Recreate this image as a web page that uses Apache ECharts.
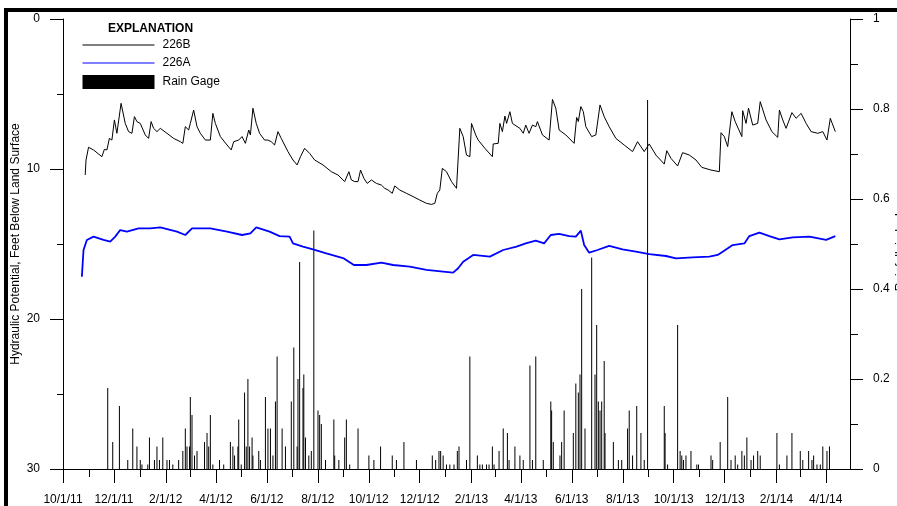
<!DOCTYPE html>
<html><head><meta charset="utf-8">
<script src="https://cdn.jsdelivr.net/npm/echarts@6/dist/echarts.min.js"></script>
<style>
html,body{margin:0;padding:0;background:#fff;}
#wrap{position:relative;width:897px;height:506px;overflow:hidden;}
#c{width:897px;height:506px;}
#frame{position:absolute;left:4px;top:8px;right:-10px;bottom:-10px;border-left:4px solid #000;border-top:4px solid #000;pointer-events:none;}
</style></head><body>
<div id="wrap"><div id="c"></div><div id="frame"></div></div>
<script>
const axisStart = '2011-10-01';
const axisEnd = '2014-04-30';
const tickLabels = ['10/1/11','12/1/11','2/1/12','4/1/12','6/1/12','8/1/12','10/1/12','12/1/12','2/1/13','4/1/13','6/1/13','8/1/13','10/1/13','12/1/13','2/1/14','4/1/14'];
const leftTicks = [0, 10, 20, 30];
const rightTicks = [0, 0.2, 0.4, 0.6, 0.8, 1];

const well226B = [['2011-10-27',10.4],['2011-10-28',9.4],['2011-10-31',8.55],['2011-11-06',8.73],['2011-11-16',9.18],['2011-11-19',8.69],['2011-11-22',8.73],['2011-11-25',7.96],['2011-11-28',8.07],['2011-12-01',6.73],['2011-12-04',7.62],['2011-12-06',7.51],['2011-12-09',5.62],['2011-12-14',6.96],['2011-12-18',7.51],['2011-12-22',7.62],['2011-12-25',6.51],['2011-12-28',6.84],['2012-01-01',6.96],['2012-01-07',7.73],['2012-01-11',7.96],['2012-01-14',6.84],['2012-01-17',7.29],['2012-01-21',7.51],['2012-01-25',7.29],['2012-02-02',7.62],['2012-02-10',7.96],['2012-02-18',8.18],['2012-02-21',8.29],['2012-02-24',7.18],['2012-02-28',7.4],['2012-03-01',6.96],['2012-03-05',6.07],['2012-03-09',7.18],['2012-03-13',7.62],['2012-03-19',8.07],['2012-03-25',8.07],['2012-03-28',6.29],['2012-03-31',6.96],['2012-04-06',7.84],['2012-04-14',8.4],['2012-04-19',8.73],['2012-04-22',8.18],['2012-04-28',8.07],['2012-05-02',7.84],['2012-05-06',8.29],['2012-05-10',7.4],['2012-05-12',7.73],['2012-05-15',5.95],['2012-05-19',6.96],['2012-05-23',7.62],['2012-05-29',8.07],['2012-06-02',8.07],['2012-06-06',8.18],['2012-06-10',8.4],['2012-06-14',7.51],['2012-06-18',7.96],['2012-06-26',8.84],['2012-07-02',9.4],['2012-07-07',9.73],['2012-07-11',9.18],['2012-07-16',8.62],['2012-07-22',8.96],['2012-07-28',9.4],['2012-08-07',9.73],['2012-08-17',10.18],['2012-08-25',10.4],['2012-09-02',10.84],['2012-09-07',10.18],['2012-09-10',10.73],['2012-09-14',10.84],['2012-09-18',10.84],['2012-09-21',10.07],['2012-09-25',10.62],['2012-09-29',10.96],['2012-10-04',10.73],['2012-10-10',10.96],['2012-10-16',11.07],['2012-10-20',11.29],['2012-10-24',11.4],['2012-10-29',11.62],['2012-11-01',11.13],['2012-11-07',11.4],['2012-11-15',11.62],['2012-11-23',11.84],['2012-12-01',12.07],['2012-12-09',12.29],['2012-12-15',12.36],['2012-12-19',12.29],['2012-12-22',11.62],['2012-12-25',11.4],['2012-12-28',9.96],['2013-01-02',10.18],['2013-01-08',10.84],['2013-01-14',11.29],['2013-01-18',7.29],['2013-01-22',7.84],['2013-01-26',9.07],['2013-01-30',9.18],['2013-02-01',6.96],['2013-02-06',7.73],['2013-02-09',8.07],['2013-02-17',8.62],['2013-02-26',9.18],['2013-02-27',8.33],['2013-03-05',8.29],['2013-03-07',6.96],['2013-03-10',7.51],['2013-03-13',6.47],['2013-03-15',6.96],['2013-03-19',6.18],['2013-03-22',6.96],['2013-03-31',7.29],['2013-04-04',7.62],['2013-04-07',7.07],['2013-04-11',7.62],['2013-04-15',7.07],['2013-04-19',7.18],['2013-04-21',6.84],['2013-04-27',7.73],['2013-05-05',8.07],['2013-05-09',5.36],['2013-05-13',5.95],['2013-05-17',7.4],['2013-05-25',7.73],['2013-06-04',8.29],['2013-06-07',6.56],['2013-06-09',6.84],['2013-06-12',5.84],['2013-06-15',6.18],['2013-06-18',7.18],['2013-06-25',7.84],['2013-06-30',7.73],['2013-07-05',5.73],['2013-07-10',6.51],['2013-07-16',7.18],['2013-07-24',7.96],['2013-08-03',8.4],['2013-08-13',8.84],['2013-08-19',8.18],['2013-08-27',8.84],['2013-09-02',8.33],['2013-09-10',9.07],['2013-09-20',9.67],['2013-09-23',8.78],['2013-09-28',9.29],['2013-10-06',9.8],['2013-10-12',8.91],['2013-10-20',9.07],['2013-10-28',9.4],['2013-11-04',9.89],['2013-11-15',10.07],['2013-11-25',10.18],['2013-11-27',7.58],['2013-12-01',7.84],['2013-12-05',8.51],['2013-12-10',6.18],['2013-12-14',6.84],['2013-12-22',7.84],['2013-12-23',6.11],['2013-12-27',6.96],['2013-12-30',5.95],['2014-01-04',7.07],['2014-01-10',6.96],['2014-01-13',5.51],['2014-01-20',6.73],['2014-01-27',7.51],['2014-02-03',7.89],['2014-02-05',6.07],['2014-02-09',6.73],['2014-02-13',7.29],['2014-02-20',6.24],['2014-02-25',6.62],['2014-03-03',6.29],['2014-03-09',6.96],['2014-03-15',7.51],['2014-03-23',7.62],['2014-03-29',7.51],['2014-04-03',8.07],['2014-04-07',6.62],['2014-04-13',7.51]];

const well226A = [['2011-10-23',17.18],['2011-10-25',15.4],['2011-10-29',14.73],['2011-11-06',14.51],['2011-11-18',14.73],['2011-11-26',14.84],['2011-12-02',14.51],['2011-12-08',14.07],['2011-12-16',14.18],['2011-12-30',13.96],['2012-01-13',13.96],['2012-01-25',13.89],['2012-02-14',14.18],['2012-02-24',14.4],['2012-03-03',13.96],['2012-03-25',13.96],['2012-04-14',14.18],['2012-05-02',14.4],['2012-05-12',14.29],['2012-05-19',13.89],['2012-06-04',14.18],['2012-06-16',14.47],['2012-06-28',14.51],['2012-07-02',14.96],['2012-07-14',15.18],['2012-07-26',15.36],['2012-08-11',15.62],['2012-09-01',15.96],['2012-09-13',16.4],['2012-09-28',16.4],['2012-10-16',16.24],['2012-10-30',16.4],['2012-11-19',16.51],['2012-12-09',16.73],['2012-12-29',16.84],['2013-01-10',16.91],['2013-01-16',16.62],['2013-01-22',16.18],['2013-02-03',15.73],['2013-02-23',15.84],['2013-03-11',15.4],['2013-03-27',15.18],['2013-04-07',14.96],['2013-04-19',14.78],['2013-04-29',14.96],['2013-05-07',14.4],['2013-05-17',14.33],['2013-05-29',14.47],['2013-06-06',14.51],['2013-06-12',14.11],['2013-06-16',15.07],['2013-06-22',15.58],['2013-07-02',15.4],['2013-07-16',15.13],['2013-08-01',15.36],['2013-08-17',15.51],['2013-09-02',15.67],['2013-09-22',15.8],['2013-10-04',15.96],['2013-10-24',15.89],['2013-11-13',15.84],['2013-11-23',15.73],['2013-11-29',15.51],['2013-12-11',15.07],['2013-12-25',14.96],['2013-12-31',14.47],['2014-01-12',14.24],['2014-01-24',14.47],['2014-02-05',14.69],['2014-02-21',14.56],['2014-03-13',14.51],['2014-04-02',14.73],['2014-04-13',14.47]];

const rainGage = [['2011-11-23',0.18],['2011-11-29',0.06],['2011-12-07',0.14],['2011-12-17',0.02],['2011-12-23',0.09],['2011-12-28',0.05],['2012-01-01',0.02],['2012-01-03',0.01],['2012-01-10',0.01],['2012-01-12',0.07],['2012-01-18',0.02],['2012-01-21',0.05],['2012-01-24',0.02],['2012-01-28',0.07],['2012-02-02',0.02],['2012-02-05',0.02],['2012-02-09',0.01],['2012-02-16',0.02],['2012-02-21',0.04],['2012-02-24',0.09],['2012-02-26',0.05],['2012-02-29',0.05],['2012-03-01',0.16],['2012-03-03',0.12],['2012-03-06',0.03],['2012-03-09',0.04],['2012-03-18',0.06],['2012-03-21',0.08],['2012-03-23',0.05],['2012-03-25',0.12],['2012-03-28',0.01],['2012-04-05',0.02],['2012-04-10',0.01],['2012-04-18',0.06],['2012-04-21',0.05],['2012-04-23',0.03],['2012-04-27',0.05],['2012-04-28',0.11],['2012-05-01',0.01],['2012-05-05',0.17],['2012-05-07',0.05],['2012-05-09',0.2],['2012-05-11',0.05],['2012-05-14',0.07],['2012-05-15',0.03],['2012-05-22',0.04],['2012-05-24',0.02],
['2012-05-30',0.16],['2012-06-02',0.09],['2012-06-05',0.09],['2012-06-08',0.03],['2012-06-11',0.15],['2012-06-13',0.25],['2012-06-19',0.09],['2012-06-23',0.05],['2012-06-30',0.15],['2012-07-03',0.27],['2012-07-07',0.05],['2012-07-08',0.2],['2012-07-10',0.46],['2012-07-14',0.18],['2012-07-15',0.21],['2012-07-17',0.07],['2012-07-21',0.03],['2012-07-24',0.04],['2012-07-27',0.53],['2012-08-01',0.13],['2012-08-03',0.12],['2012-08-05',0.1],['2012-08-10',0.02],['2012-08-20',0.11],['2012-08-21',0.03],['2012-08-26',0.02],['2012-09-02',0.07],['2012-09-04',0.11],['2012-09-08',0.01],['2012-09-18',0.09],['2012-10-01',0.03],['2012-10-07',0.02],['2012-10-15',0.05],['2012-10-29',0.03],['2012-11-03',0.02],['2012-11-12',0.06],['2012-11-27',0.02],['2012-12-16',0.03],['2012-12-20',0.02],['2012-12-24',0.04],['2012-12-26',0.04],['2012-12-29',0.03],['2013-01-02',0.01],['2013-01-06',0.01],['2013-01-11',0.01],['2013-01-15',0.04],['2013-01-17',0.05],
['2013-01-26',0.02],['2013-01-30',0.25],['2013-02-08',0.03],['2013-02-11',0.01],['2013-02-14',0.01],['2013-02-19',0.01],['2013-02-22',0.01],['2013-02-26',0.05],['2013-02-28',0.01],['2013-03-06',0.04],['2013-03-11',0.09],['2013-03-16',0.08],['2013-03-18',0.02],['2013-03-25',0.05],['2013-03-31',0.03],['2013-04-04',0.02],['2013-04-12',0.23],['2013-04-15',0.02],['2013-04-19',0.25],['2013-04-28',0.02],['2013-05-07',0.15],['2013-05-08',0.13],['2013-05-10',0.06],['2013-05-18',0.03],['2013-05-20',0.06],['2013-05-23',0.13],['2013-06-03',0.08],['2013-06-06',0.19],['2013-06-09',0.17],['2013-06-11',0.21],['2013-06-13',0.40],['2013-06-17',0.09],['2013-06-25',0.47],['2013-06-29',0.21],['2013-07-01',0.32],['2013-07-03',0.15],['2013-07-05',0.13],['2013-07-07',0.15],['2013-07-10',0.24],['2013-07-11',0.08],['2013-07-21',0.06],['2013-07-27',0.02],['2013-07-31',0.02],['2013-08-07',0.09],['2013-08-09',0.13],['2013-08-13',0.03],['2013-08-18',0.14],['2013-08-23',0.08],['2013-08-27',0.02],['2013-08-31',0.82],
['2013-09-20',0.14],['2013-09-21',0.08],['2013-09-24',0.01],['2013-10-06',0.32],['2013-10-09',0.04],['2013-10-11',0.03],['2013-10-13',0.02],['2013-10-16',0.03],['2013-10-22',0.04],['2013-10-29',0.01],['2013-10-31',0.01],['2013-11-15',0.03],['2013-11-17',0.02],['2013-11-26',0.06],['2013-12-05',0.16],['2013-12-09',0.02],['2013-12-14',0.03],['2013-12-17',0.01],['2013-12-22',0.04],['2013-12-25',0.03],['2013-12-28',0.07],['2014-01-02',0.02],['2014-01-05',0.03],['2014-01-10',0.04],['2014-01-13',0.03],['2014-02-02',0.08],['2014-02-05',0.01],['2014-02-14',0.03],['2014-02-20',0.08],['2014-03-02',0.04],['2014-03-05',0.02],['2014-03-12',0.04],['2014-03-16',0.02],['2014-03-18',0.03],['2014-03-22',0.01],['2014-03-26',0.01],['2014-03-29',0.05],['2014-04-03',0.04],['2014-04-06',0.05]];

function ts(s){ const p = s.split('-').map(Number); return new Date(p[0], p[1]-1, p[2]).getTime(); }
// daily category list for the tick axes
const dayCats = [];
for (let t = ts(axisStart); t <= ts(axisEnd) + 3600000; ) {
  const d = new Date(t);
  dayCats.push((d.getMonth()+1) + '/' + d.getDate() + '/' + String(d.getFullYear()).slice(2));
  t = new Date(d.getFullYear(), d.getMonth(), d.getDate()+1).getTime();
}
const FONT = 'Liberation Sans, Arial, sans-serif';
const isMajor = (i, v) => tickLabels.indexOf(v) >= 0;
const isMonth = (i, v) => v.split('/')[1] === '1';

const chart = echarts.init(document.getElementById('c'), null, {renderer: 'canvas'});
chart.setOption({
  animation: false,
  textStyle: {fontFamily: FONT},
  title: {text: 'EXPLANATION', left: 108, top: 23, padding: 0,
    textStyle: {fontSize: 12, fontWeight: 'bold', color: '#000', fontFamily: FONT}},
  legend: {
    orient: 'vertical', left: 82, top: 39, padding: 0,
    itemWidth: 72, itemHeight: 14, itemGap: 6,
    textStyle: {fontSize: 12, color: '#000', fontFamily: FONT, padding: [0,0,0,3]},
    data: [
      {name: '226B', itemStyle: {opacity: 0}, lineStyle: {width: 1}},
      {name: '226A', itemStyle: {opacity: 0}, lineStyle: {width: 1}},
      {name: 'Rain Gage', icon: 'rect'}
    ]
  },
  grid: {left: 63, right: 47, top: 19, bottom: 37, containLabel: false, outerBoundsMode: 'none'},
  xAxis: [
    {type: 'time', min: ts(axisStart), max: ts(axisEnd), show: false},
    {type: 'category', data: dayCats, boundaryGap: false, position: 'bottom',
      axisLine: {show: true, onZero: false, lineStyle: {color: '#000', width: 1}},
      axisTick: {show: true, interval: isMajor, length: 14, lineStyle: {color: '#000'}},
      axisLabel: {interval: isMajor, margin: 25, fontSize: 12, color: '#000', fontFamily: FONT},
      splitLine: {show: false}},
    {type: 'category', data: dayCats, boundaryGap: false, position: 'bottom',
      axisLine: {show: false, onZero: false},
      axisTick: {show: true, interval: isMonth, length: 8, lineStyle: {color: '#000'}},
      axisLabel: {show: false}, splitLine: {show: false}}
  ],
  yAxis: [
    {type: 'value', position: 'left', inverse: true,
      min: leftTicks[0], max: leftTicks[leftTicks.length-1], interval: 10,
      name: 'Hydraulic Potential, Feet Below Land Surface', nameLocation: 'middle', nameGap: 41, nameRotate: 90,
      nameMoveOverlap: false,
      nameTextStyle: {fontSize: 12, color: '#000', fontFamily: FONT},
      axisLine: {show: true, onZero: false, lineStyle: {color: '#000'}},
      axisTick: {show: true, length: 13, lineStyle: {color: '#000'}},
      minorTick: {show: true, splitNumber: 2, length: 6, lineStyle: {color: '#000'}},
      splitLine: {show: false}, minorSplitLine: {show: false},
      axisLabel: {margin: 23, fontSize: 12, color: '#000', fontFamily: FONT}},
    {type: 'value', position: 'right',
      min: rightTicks[0], max: rightTicks[rightTicks.length-1], interval: 0.2,
      name: 'Rainfall, in Inches', nameLocation: 'middle', nameGap: 45, nameRotate: 90,
      nameMoveOverlap: false,
      nameTextStyle: {fontSize: 12, color: '#000', fontFamily: FONT},
      axisLine: {show: true, onZero: false, lineStyle: {color: '#000'}},
      axisTick: {show: true, length: 13, lineStyle: {color: '#000'}},
      minorTick: {show: true, splitNumber: 2, length: 8, lineStyle: {color: '#000'}},
      splitLine: {show: false}, minorSplitLine: {show: false},
      axisLabel: {margin: 23, fontSize: 12, color: '#000', fontFamily: FONT}}
  ],
  series: [
    {name: '226B', type: 'line', xAxisIndex: 0, yAxisIndex: 0, symbol: 'none',
      lineStyle: {color: '#000', width: 1}, itemStyle: {color: '#000'},
      data: well226B.map(p => [ts(p[0]), p[1]])},
    {name: '226A', type: 'line', xAxisIndex: 0, yAxisIndex: 0, symbol: 'none',
      lineStyle: {color: '#0000ff', width: 1.8}, itemStyle: {color: '#0000ff'},
      data: well226A.map(p => [ts(p[0]), p[1]])},
    {name: 'Rain Gage', type: 'bar', xAxisIndex: 0, yAxisIndex: 1, barWidth: 1,
      itemStyle: {color: '#000'},
      data: rainGage.map(p => [ts(p[0]), p[1]])}
  ]
});
</script>
</body></html>
